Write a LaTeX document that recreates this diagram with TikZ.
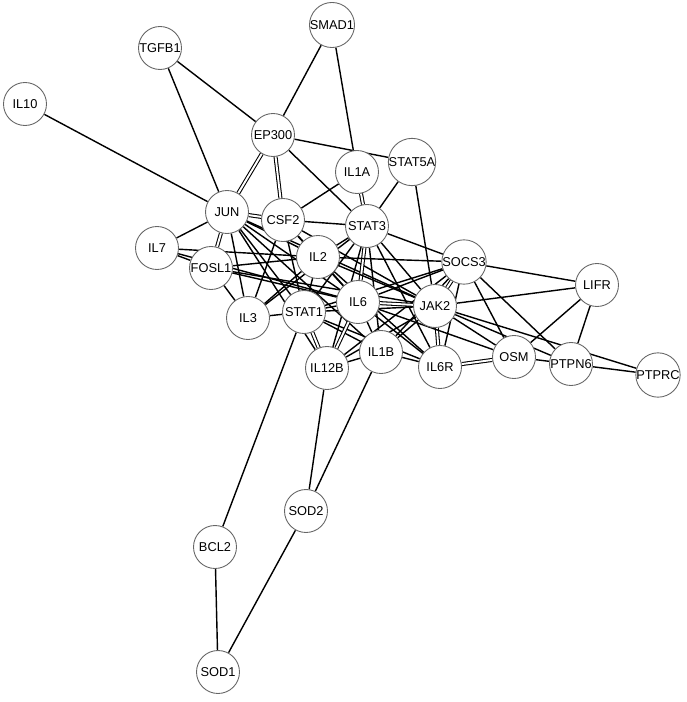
\documentclass[tikz,border=0pt]{standalone}
\usepackage{fontspec}
\setmainfont{Liberation Sans}
\usetikzlibrary{backgrounds}
\tikzset{
    gene/.style={circle, draw=black!60, line width=0.5pt, fill=white, minimum size=0.86cm, inner sep=0pt, font=\fontsize{7.3}{8}\selectfont},
    link/.style={line width=0.8pt},
    dbl/.style={double, double distance=1.1pt, line width=0.6pt}
}
\begin{document}
\begin{tikzpicture}[x=0.02cm, y=-0.02cm]
        \useasboundingbox (0,0) rectangle (686,702);
        \foreach \n/\x/\y/\l in {smad1/332/25/SMAD1,tgfb1/160/48/TGFB1,il10/25/104/IL10,ep300/273/135/EP300,il1a/357/172/IL1A,stat5a/412/162/STAT5A,jun/227/212/JUN,csf2/283/220/CSF2,stat3/367/226/STAT3,il7/157/248/IL7,fosl1/211/268/FOSL1,il2/318/257/IL2,socs3/464/262/SOCS3,lifr/597/285/LIFR,il6/358/302/IL6,jak2/435/306/JAK2,il3/248/318/IL3,stat1/304/312/STAT1,il12b/327/368/IL12B,il1b/381/352/IL1B,il6r/440/367/IL6R,osm/514/357/OSM,ptpn6/571/364/PTPN6,ptprc/658/375/PTPRC,sod2/306/511/SOD2,bcl2/215/547/BCL2,sod1/218/672/SOD1}{
            \node[gene] (\n) at (\x,\y) {\l};
        }
        \begin{pgfonlayer}{background}
        \foreach \m/\n/\s in {smad1/ep300/,smad1/il1a/,tgfb1/ep300/,tgfb1/jun/,il10/jun/,ep300/stat5a/,ep300/jun/dbl,ep300/csf2/dbl,ep300/stat3/,il1a/csf2/,il1a/stat3/dbl,stat5a/stat3/,stat5a/jak2/,jun/csf2/dbl,jun/il7/,jun/fosl1/dbl,jun/il3/,jun/stat1/,jun/il2/,jun/il6/,jun/jak2/,jun/il1b/,jun/il12b/,csf2/stat3/,csf2/il2/,csf2/il3/,csf2/stat1/,csf2/il6/,csf2/jak2/,il7/fosl1/,il7/il2/,il7/il6/,fosl1/il2/,fosl1/il3/,fosl1/jak2/,fosl1/il6/,il3/stat1/,il3/il2/,il3/stat3/,stat1/il12b/dbl,stat1/bcl2/,stat1/il6/,stat1/stat3/,stat1/il2/,stat1/il1b/,stat1/jak2/,stat1/socs3/,stat1/il6r/,stat3/socs3/,stat3/il6/dbl,stat3/jak2/,stat3/il6r/,stat3/il1b/,stat3/il12b/,stat3/il2/,il2/socs3/,il2/jak2/,il2/il6/,il2/il6r/,socs3/lifr/,socs3/jak2/dbl,socs3/osm/,socs3/ptpn6/,socs3/il6/,socs3/il6r/,socs3/il12b/,socs3/il1b/,jak2/lifr/,jak2/osm/,jak2/ptpn6/,jak2/ptprc/,jak2/il6r/dbl,jak2/il6/dbl,jak2/il1b/,jak2/il12b/,il6/il6r/,il6/il1b/,il6/il12b/dbl,il6/osm/,il6r/osm/dbl,il6r/il1b/,osm/ptpn6/,osm/lifr/,ptpn6/lifr/,ptpn6/ptprc/,il12b/il1b/,il12b/sod2/,il1b/sod2/,sod2/sod1/,bcl2/sod1/}{
            \draw[link,\s] (\m) -- (\n);
        }
        \end{pgfonlayer}
    \end{tikzpicture}
\end{document}
